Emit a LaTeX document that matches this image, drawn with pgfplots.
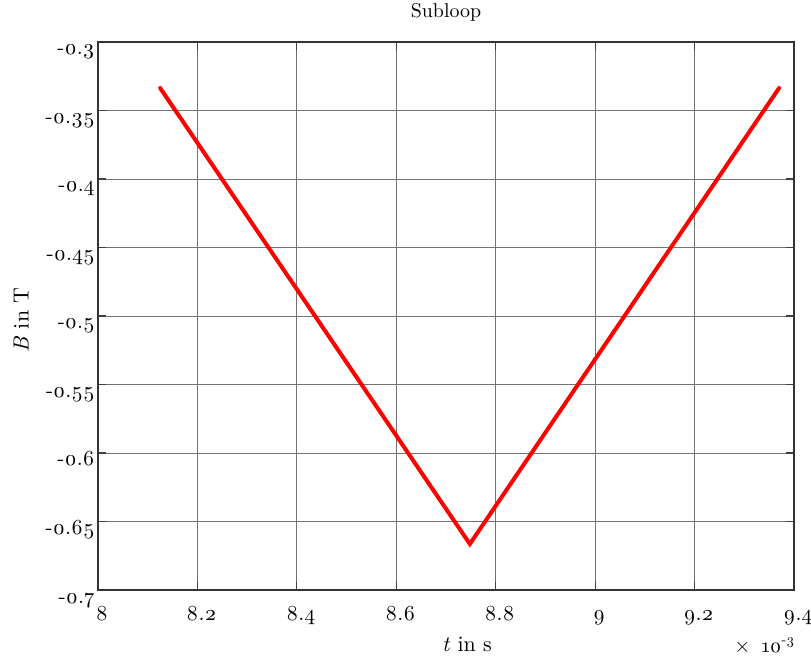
\documentclass[border=0pt]{standalone}
\usepackage{fontspec}
\setmainfont{lmroman10}[Extension=.otf, UprightFont=*-regular, ItalicFont=*-italic, BoldFont=*-bold, Numbers=OldStyle]
\usepackage{pgfplots}
\pgfplotsset{compat=1.18}

\begin{document}
\begin{tikzpicture}
\begin{axis}[
  scale only axis,
  width=696bp, height=548bp,
  xmin=8, xmax=9.4, ymin=-0.7, ymax=-0.3,
  xtick={8,8.2,...,9.4},
  ytick={-0.7,-0.65,...,-0.3},
  xticklabels={8,8.2,8.4,8.6,8.8,9,9.2,9.4},
  yticklabels={-0.7,-0.65,-0.6,-0.55,-0.5,-0.45,-0.4,-0.35,-0.3},
  tick align=inside,
  major tick length=8bp,
  tick style={black!75, line width=1.2bp},
  axis line style={black!80, line width=1.4bp},
  grid=major,
  major grid style={black!55, line width=0.9bp},
  tick label style={font=\fontsize{21.5}{25}\selectfont, inner sep=0pt},
  xticklabel style={anchor=base, yshift=-30bp, xshift=4bp},
  yticklabel style={anchor=base east, yshift=-13bp, xshift=-3bp},
  xlabel={\textit{t} in s},
  ylabel={\textit{B} in T},
  label style={font=\fontsize{22}{26}\selectfont},
  xlabel style={at={(axis description cs:0.5302,-0.1131)}, anchor=base},
  ylabel style={at={(axis description cs:-0.1106,0.4927)}, anchor=center},
  title={Subloop},
  title style={font=\fontsize{20}{24}\selectfont, at={(axis description cs:0.5,1.0347)}, anchor=base},
]
\addplot[red, line width=4bp, line cap=round, line join=miter] coordinates {
  (8.125,-0.3336) (8.748,-0.6664) (9.370,-0.3336)
};
\end{axis}
% scale factor of the time axis
\node[anchor=base east, inner sep=0pt, font=\fontsize{20.5}{24}\selectfont]
  at ([xshift=1bp, yshift=-62bp]current axis.south east) {$\times$\hspace{0.55em}10\textsuperscript{-3}};
\pgfresetboundingbox
\path[use as bounding box] (current axis.south west) ++(-98bp,-67bp) rectangle ++(811bp,657bp);
\end{tikzpicture}
\end{document}
